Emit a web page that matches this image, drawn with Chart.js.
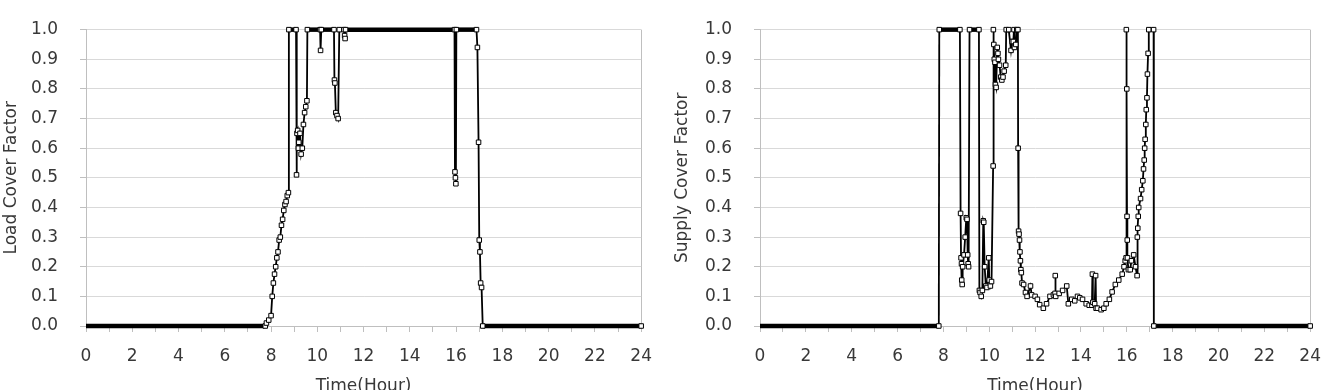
<!DOCTYPE html>
<html><head><meta charset="utf-8">
<script src="https://cdn.jsdelivr.net/npm/chart.js@4.4.0/dist/chart.umd.min.js"></script>
<style>
html,body{margin:0;padding:0;background:#fff;overflow:hidden;width:1337px;height:390px;}
.box{position:absolute;top:0;height:400px;}
canvas{display:block;}
</style></head><body>
<div class="box" style="left:0;width:668px"><canvas id="c1" width="668" height="400"></canvas></div>
<div class="box" style="left:668px;width:669px"><canvas id="c2" width="669" height="400"></canvas></div>
<script>
// ---- data ----
const xTickLabels = ['0','2','4','6','8','10','12','14','16','18','20','22','24'];
const yTickLabels = ['0.0','0.1','0.2','0.3','0.4','0.5','0.6','0.7','0.8','0.9','1.0'];

const loadTimes = [0,7.75,7.8,7.9,8.0,8.05,8.1,8.15,8.2,8.25,8.3,8.35,8.4,8.45,8.5,8.55,8.6,8.65,8.7,8.75,8.77,9.08,9.1,9.12,9.15,9.18,9.2,9.25,9.3,9.35,9.4,9.45,9.5,9.55,9.57,10.12,10.14,10.17,10.72,10.74,10.76,10.8,10.85,10.9,10.95,11.15,11.18,11.2,11.22,15.93,15.95,15.97,15.99,16.01,16.88,16.92,16.97,17.0,17.03,17.06,17.1,17.15,24];
const loadValues = [0,0,0.01,0.02,0.035,0.1,0.145,0.175,0.2,0.23,0.25,0.29,0.3,0.34,0.36,0.39,0.41,0.42,0.44,0.45,1.0,1.0,0.51,0.65,0.66,0.6,0.62,0.65,0.58,0.6,0.68,0.72,0.74,0.76,1.0,1.0,0.93,1.0,1.0,0.83,0.82,0.72,0.71,0.7,1.0,1.0,0.98,0.97,1.0,1.0,0.52,0.5,0.48,1.0,1.0,0.94,0.62,0.29,0.25,0.145,0.13,0,0];

const supplyTimes = [0,7.8,7.82,8.72,8.75,8.77,8.79,8.8,8.82,8.84,8.9,8.95,9.0,9.03,9.06,9.08,9.1,9.14,9.55,9.57,9.6,9.65,9.7,9.74,9.76,9.8,9.85,9.9,9.98,10.0,10.05,10.1,10.17,10.18,10.2,10.22,10.25,10.27,10.3,10.35,10.38,10.4,10.45,10.5,10.55,10.6,10.65,10.72,10.74,10.85,10.95,11.0,11.05,11.08,11.1,11.16,11.2,11.25,11.26,11.28,11.3,11.32,11.34,11.36,11.38,11.4,11.43,11.5,11.58,11.65,11.8,11.85,12.0,12.1,12.2,12.36,12.5,12.65,12.8,12.87,12.88,12.9,13.05,13.2,13.38,13.45,13.6,13.73,13.85,13.95,14.07,14.23,14.36,14.48,14.5,14.52,14.6,14.64,14.66,14.72,14.88,15.0,15.1,15.24,15.36,15.5,15.65,15.8,15.88,15.93,15.97,15.98,16.0,16.01,16.02,16.03,16.07,16.15,16.2,16.3,16.38,16.45,16.46,16.48,16.5,16.52,16.6,16.65,16.7,16.73,16.76,16.78,16.8,16.83,16.85,16.88,16.9,16.93,16.96,17.17,17.18,24];
const supplyValues = [0,0,1,1,0.38,0.23,0.21,0.155,0.14,0.2,0.24,0.3,0.365,0.36,0.24,0.21,0.2,1,1,0.12,0.113,0.1,0.12,0.355,0.35,0.2,0.135,0.13,0.23,0.155,0.135,0.15,0.54,1.0,0.95,0.9,0.89,0.815,0.805,0.94,0.92,0.9,0.88,0.84,0.83,0.84,0.86,0.88,1,1,0.93,0.96,0.96,1.0,0.94,0.95,1.0,1.0,0.6,0.32,0.31,0.29,0.25,0.22,0.19,0.18,0.145,0.14,0.113,0.1,0.135,0.105,0.1,0.09,0.072,0.06,0.075,0.1,0.105,0.11,0.17,0.1,0.11,0.12,0.135,0.075,0.09,0.085,0.1,0.095,0.09,0.075,0.07,0.07,0.175,0.08,0.075,0.17,0.06,0.06,0.055,0.06,0.075,0.09,0.115,0.14,0.155,0.175,0.2,0.22,0.23,1.0,0.8,0.37,0.29,0.23,0.19,0.19,0.22,0.24,0.2,0.17,0.3,0.33,0.37,0.4,0.43,0.46,0.49,0.53,0.56,0.6,0.63,0.68,0.73,0.77,0.85,0.92,1.0,1.0,0,0];

// ---- chart ----
const FONT = '"DejaVu Sans", "Open Sans", sans-serif';
const TXT = '#383838';
const AXIS = '#bfbfbf';
const GRID = '#d9d9d9';

function makeChart(id, times, values, yTitle, yWidth, padRight, yTitlePad) {
  const pts = times.map((t, i) => ({x: t, y: values[i]}));
  return new Chart(document.getElementById(id), {
    type: 'line',
    data: { datasets: [{
      data: pts,
      borderColor: '#000',
      borderWidth: 2,
      tension: 0,
      clip: false,
      pointStyle: 'rect',
      pointRadius: c => (c.dataIndex === 0 ? 0 : 3.2),
      pointBackgroundColor: '#fff',
      pointBorderColor: '#000',
      pointBorderWidth: 1,
      segment: {
        borderWidth: ctx => (ctx.p0.parsed.y === ctx.p1.parsed.y ? 4.5 : 1.8)
      }
    }]},
    options: {
      responsive: false,
      animation: false,
      devicePixelRatio: 1,
      layout: { padding: { left: 0, right: padRight, top: 8, bottom: 0 } },
      plugins: { legend: { display: false }, tooltip: { enabled: false } },
      scales: {
        x: {
          type: 'linear', min: 0, max: 24,
          afterFit: s => { s.height = 74; },
          ticks: {
            stepSize: 1, autoSkip: false, maxRotation: 0, padding: 16,
            color: TXT, font: { family: FONT, size: 17, lineHeight: 1 },
            callback: v => (v % 2 === 0 ? xTickLabels[v / 2] : '')
          },
          grid: {
            drawOnChartArea: true, tickLength: 6, tickColor: AXIS,
            color: c => (c.tick && c.tick.value === 24 ? AXIS : 'rgba(0,0,0,0)')
          },
          border: { color: AXIS, width: 1 },
          title: { display: true, text: 'Time(Hour)', color: TXT,
                   font: { family: FONT, size: 17 }, padding: { top: 0, bottom: 3 } }
        },
        y: {
          min: 0, max: 1,
          afterFit: s => { s.width = yWidth; },
          ticks: {
            stepSize: 0.1, padding: 22, color: TXT,
            font: { family: FONT, size: 17, lineHeight: 0.9 },
            callback: v => yTickLabels[Math.round(v * 10)]
          },
          grid: { color: GRID, tickLength: 6, tickColor: AXIS },
          border: { color: AXIS, width: 1 },
          title: { display: true, text: yTitle, color: TXT,
                   font: { family: FONT, size: 17 }, padding: { top: yTitlePad, bottom: 0 } }
        }
      }
    }
  });
}

makeChart('c1', loadTimes, loadValues, 'Load Cover Factor', 86, 21, 1);
makeChart('c2', supplyTimes, supplyValues, 'Supply Cover Factor', 92, 17, 4);
</script>
</body></html>
